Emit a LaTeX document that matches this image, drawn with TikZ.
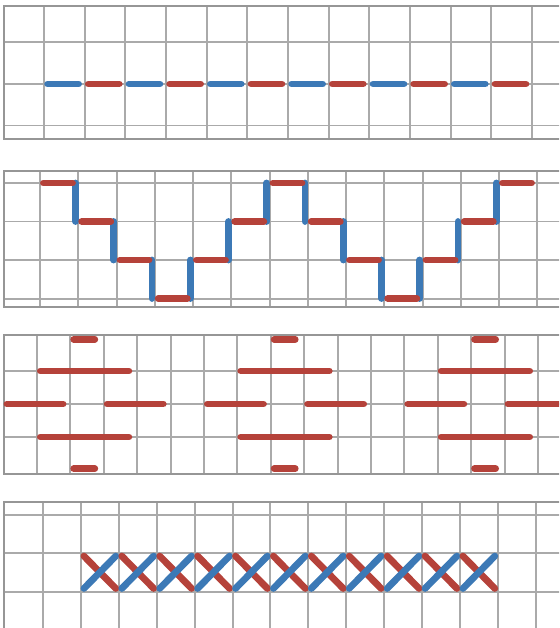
\documentclass[tikz,border=0pt]{standalone}
\usepackage{tikz}
\definecolor{stitchred}{RGB}{181,66,58}
\definecolor{stitchblue}{RGB}{60,121,182}
\definecolor{gridgray}{RGB}{170,170,170}
\definecolor{framegray}{RGB}{150,150,150}

\begin{document}
\begin{tikzpicture}[
			x=0.03cm,
			y=-0.03cm,
			gridline/.style={
				draw=gridgray,
				line width=1.7pt
			},
			frameline/.style={
				draw=framegray,
				line width=1.3pt
			},
			redstitch/.style={
				draw=stitchred,
				line width=5.8pt,
				line cap=round
			},
			bluestitch/.style={
				draw=stitchblue,
				line width=5.8pt,
				line cap=round
			}
			]
			\useasboundingbox (0,0) rectangle (559,628);
			\clip (0,0) rectangle (559,628);
			
			\begin{scope}[shift={(44,84)}, x=1.22cm, y=-1.245cm]
				\foreach \i in {0,...,12}
					\draw[gridline] (\i,-1.88) -- (\i,1.325);
				\foreach \j in {-1,0,1}
					\draw[gridline] (-0.984,\j) -- (12.7,\j);
				\draw[frameline] (12.7,-1.88) -- (-0.984,-1.88) -- (-0.984,1.325) -- (12.7,1.325);
				\foreach \i in {0,2,...,10}
					\draw[bluestitch] (\i+0.09,0) -- (\i+0.85,0);
				\foreach \i in {1,3,...,11}
					\draw[redstitch] (\i+0.09,0) -- (\i+0.85,0);
			\end{scope}
			
			\begin{scope}[shift={(40,183)}, x=1.1475cm, y=-1.155cm]
				\foreach \i in {0,...,13}
					\draw[gridline] (\i,-0.31) -- (\i,3.22);
				\foreach \j in {0,...,3}
					\draw[gridline] (-0.941,\j) -- (13.6,\j);
				\draw[frameline] (13.6,-0.31) -- (-0.941,-0.31) -- (-0.941,3.22) -- (13.6,3.22);
				\foreach \c/\a/\b in {0/0/1,1/1/2,2/2/3,3/3/2,4/2/1,5/1/0,6/0/1,7/1/2,8/2/3,9/3/2,10/2/1,11/1/0} {
					\draw[bluestitch] (\c+0.93,\a) -- (\c+0.93,\b);
					\draw[redstitch] (\c+0.09,\a) -- (\c+0.85,\a);
				}
				\draw[redstitch] (12.09,0) -- (12.85,0);
			\end{scope}
			
			\begin{scope}[shift={(37,404)}, x=1.002cm, y=-0.99cm]
				\foreach \i in {0,...,15}
					\draw[gridline] (\i,-2.09) -- (\i,2.12);
				\foreach \j in {-1,0,1}
					\draw[gridline] (-0.988,\j) -- (15.7,\j);
				\draw[frameline] (15.7,-2.09) -- (-0.988,-2.09) -- (-0.988,2.12) -- (15.7,2.12);
				\foreach \m in {0,6,12} {
					\draw[redstitch] (\m+1.1,-1.96) -- (\m+1.73,-1.96);
					\draw[redstitch] (\m+0.1,-1) -- (\m+2.75,-1);
					\draw[redstitch] (\m+0.1,1) -- (\m+2.75,1);
					\draw[redstitch] (\m+1.1,1.96) -- (\m+1.73,1.96);
				}
				\foreach \m in {-1,2,...,14}
					\draw[redstitch] (\m+0.1,0) -- (\m+1.78,0);
			\end{scope}
			
			\begin{scope}[shift={(43,553)}, x=1.137cm, y=-1.155cm]
				\foreach \i in {0,...,13}
					\draw[gridline] (\i,-1.32) -- (\i,2);
				\foreach \j in {-1,0,1,2}
					\draw[gridline] (-1.03,\j) -- (13.7,\j);
				\draw[frameline] (13.7,-1.32) -- (-1.03,-1.32) -- (-1.03,2);
				\foreach \c in {1,...,11} {
					\draw[redstitch] (\c+0.08,0.08) -- (\c+0.92,0.92);
					\draw[bluestitch] (\c+0.08,0.92) -- (\c+0.92,0.08);
				}
			\end{scope}
		\end{tikzpicture}
\end{document}
